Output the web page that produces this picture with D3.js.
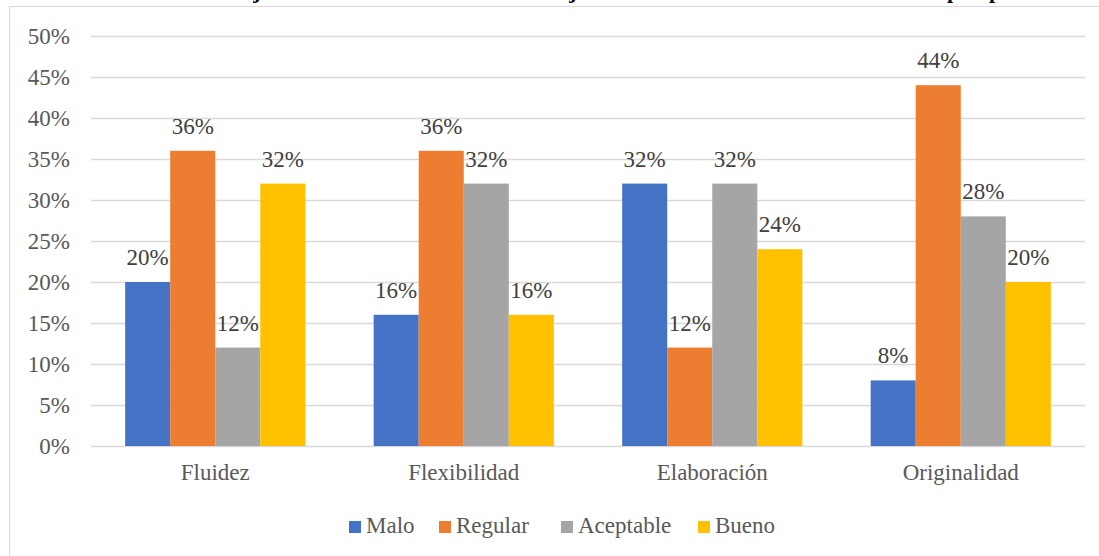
<!DOCTYPE html>
<html>
<head>
<meta charset="utf-8">
<script src="https://cdn.jsdelivr.net/npm/d3@7"></script>
<style>
	body {margin: 0; background: #fff;}
	svg text {font-family: 'Liberation Serif', 'DejaVu Serif', serif;}
</style>
</head>
<body>
<div id="chart"></div>
<script>
(function(){
	var categories = ['Fluidez', 'Flexibilidad', 'Elaboración', 'Originalidad'];
	var seriesNames = ['Malo', 'Regular', 'Aceptable', 'Bueno'];
	var malo = [20, 16, 32, 8];
	var regular = [36, 36, 12, 44];
	var aceptable = [12, 32, 32, 28];
	var bueno = [32, 16, 24, 20];
	var yTicks = [0, 5, 10, 15, 20, 25, 30, 35, 40, 45, 50];

	var colors = ['#4472C4', '#ED7D31', '#A5A5A5', '#FFC000'];
	var series = [malo, regular, aceptable, bueno];

	var serif = "'Liberation Serif', 'DejaVu Serif', serif";
	var width = 1099, height = 556;
	var plot = {left: 91, right: 1085, top: 36, bottom: 446};

	var svg = d3.select('#chart')
		.append('svg')
			.attr('width', width)
			.attr('height', height)
			.attr('font-family', serif);

	// cut off title descenders from the page above
	[['j', 257], ['j', 573], ['p', 953], ['p', 995]].forEach(function(g) {
		svg.append('text')
			.attr('x', g[1]).attr('y', -2)
			.attr('text-anchor', 'middle')
			.attr('font-family', serif)
			.style('font-size', '22px')
			.style('font-weight', 'bold')
			.style('fill', '#000')
			.text(g[0]);
	});

	svg.append('rect')
		.attr('x', 9.5).attr('y', 6.5)
		.attr('width', 1200).attr('height', 600)
		.style('fill', '#fff')
		.style('stroke', '#d9d9d9')
		.style('stroke-width', 1);

	var y = d3.scaleLinear().domain([0, 50]).range([plot.bottom, plot.top]);
	var x0 = d3.scaleBand().domain(categories).range([plot.left, plot.right]).paddingInner(0.275).paddingOuter(0.1375);
	var x1 = d3.scaleBand().domain(seriesNames).range([0, x0.bandwidth()]);

	// grid
	svg.append('g')
		.selectAll('line')
		.data(yTicks)
		.enter().append('line')
			.attr('x1', plot.left).attr('x2', plot.right)
			.attr('y1', function(d) {return Math.round(y(d)) + 0.5;})
			.attr('y2', function(d) {return Math.round(y(d)) + 0.5;})
			.style('stroke', '#d9d9d9')
			.style('stroke-width', 1.5);

	svg.append('g')
		.selectAll('text')
		.data(yTicks)
		.enter().append('text')
			.attr('x', 70)
			.attr('y', function(d) {return y(d) + 8;})
			.attr('text-anchor', 'end')
			.attr('font-family', serif)
			.style('font-size', '23px')
			.style('fill', '#595959')
			.text(function(d) {return d + '%';});

	// bars
	var rows = [];
	categories.forEach(function(c, ci) {
		seriesNames.forEach(function(s, si) {
			rows.push({cat: c, name: s, value: series[si][ci], color: colors[si]});
		});
	});

	var bars = svg.append('g');
	bars.selectAll('rect')
		.data(rows)
		.enter().append('rect')
			.attr('x', function(d) {return x0(d.cat) + x1(d.name);})
			.attr('y', function(d) {return y(d.value);})
			.attr('width', x1.bandwidth())
			.attr('height', function(d) {return y(0) - y(d.value);})
			.style('fill', function(d) {return d.color;});

	bars.selectAll('text')
		.data(rows)
		.enter().append('text')
			.attr('x', function(d) {return x0(d.cat) + x1(d.name) + x1.bandwidth() / 2;})
			.attr('y', function(d) {return y(d.value) - 17;})
			.attr('text-anchor', 'middle')
			.attr('font-family', serif)
			.style('font-size', '23px')
			.style('fill', '#404040')
			.text(function(d) {return d.value + '%';});

	// category labels
	svg.append('g')
		.selectAll('text')
		.data(categories)
		.enter().append('text')
			.attr('x', function(d) {return x0(d) + x0.bandwidth() / 2;})
			.attr('y', 480)
			.attr('text-anchor', 'middle')
			.attr('font-family', serif)
			.style('font-size', '23px')
			.style('fill', '#595959')
			.text(function(d) {return d;});

	// legend
	var legendX = [349, 439, 561, 698];
	var legend = svg.append('g')
		.selectAll('g')
		.data(seriesNames)
		.enter().append('g')
			.attr('transform', function(d, i) {return 'translate(' + legendX[i] + ',521)';});
	legend.append('rect')
		.attr('width', 12).attr('height', 12)
		.style('fill', function(d, i) {return colors[i];});
	legend.append('text')
		.attr('x', 17).attr('y', 12)
		.attr('font-family', serif)
		.style('font-size', '23px')
		.style('fill', '#595959')
		.text(function(d) {return d;});
})();
</script>
</body>
</html>
